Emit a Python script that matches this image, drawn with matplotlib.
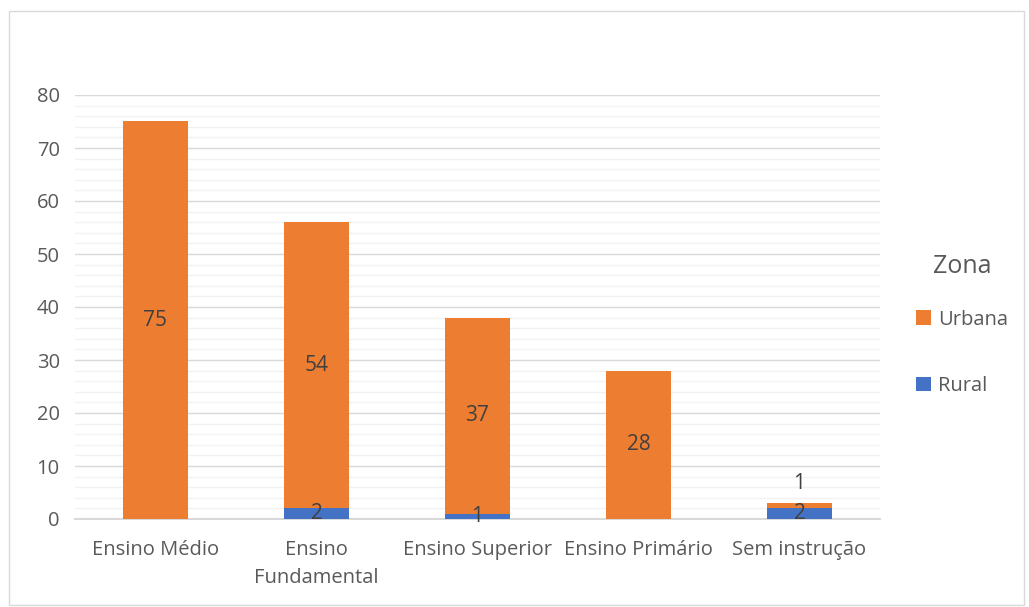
import matplotlib
matplotlib.use("Agg")
import matplotlib.pyplot as plt
from matplotlib.patches import Rectangle
from matplotlib.ticker import MultipleLocator

categories = ["Ensino Médio", "Ensino\nFundamental", "Ensino Superior", "Ensino Primário", "Sem instrução"]
rural = [0, 2, 1, 0, 2]
urbana = [75, 54, 37, 28, 1]

plt.rcParams['font.family'] = ['Open Sans', 'DejaVu Sans']
TXT = '#595959'
ORANGE = '#ED7D31'
BLUE = '#4472C4'
FS = 14.5

fig = plt.figure(figsize=(10.29, 6.07), dpi=100)
ax = fig.add_axes([75/1029, 1-519/607, 805/1029, 424/607])

x = list(range(len(categories)))
w = 0.405
ax.bar(x, rural, width=w, color=BLUE, label='Rural', zorder=3)
ax.bar(x, urbana, width=w, bottom=rural, color=ORANGE, label='Urbana', zorder=3)

for i in x:
    if rural[i] > 0:
        ax.text(i, rural[i] / 2, str(rural[i]), ha='center', va='center',
                fontsize=FS + 0.5, color='#404040', zorder=4)
    if urbana[i] > 0:
        mid = rural[i] + urbana[i] / 2
        if urbana[i] < 3 and rural[i] > 0:
            ax.annotate(str(urbana[i]), (i, rural[i] + urbana[i]), xytext=(0, 14),
                        textcoords='offset points', ha='center', va='center',
                        fontsize=FS + 0.5, color='#404040', zorder=4)
        else:
            ax.text(i, mid, str(urbana[i]), ha='center', va='center',
                    fontsize=FS + 0.5, color='#404040', zorder=4)

ax.set_xlim(-0.5, len(categories) - 0.5)
ax.set_ylim(0, 80)
ax.yaxis.set_major_locator(MultipleLocator(10))
ax.yaxis.set_minor_locator(MultipleLocator(2))
ax.grid(axis='y', which='minor', color='#F2F2F2', linewidth=1.0, zorder=0)
ax.grid(axis='y', which='major', color='#D9D9D9', linewidth=1.0, zorder=1)
ax.set_xticks(x)
ax.set_xticklabels(categories, fontsize=FS, color=TXT, linespacing=1.55)
ax.tick_params(axis='y', labelsize=FS, labelcolor=TXT, length=0, pad=11)
ax.tick_params(axis='y', which='minor', length=0)
ax.tick_params(axis='x', length=0, pad=15)
for s in ['top', 'right', 'left']:
    ax.spines[s].set_visible(False)
ax.spines['bottom'].set_color('#D9D9D9')
ax.spines['bottom'].set_linewidth(1.5)
ax.spines['bottom'].set_zorder(2)

handles, labels = ax.get_legend_handles_labels()
leg = fig.legend(handles[::-1], labels[::-1], title='Zona', loc='center left',
                 bbox_to_anchor=(898/1029, 1 - 325/607), frameon=False,
                 fontsize=FS, title_fontsize=18, labelspacing=2.3,
                 handlelength=0.75, handleheight=0.75, handletextpad=0.35)
for t in leg.get_texts():
    t.set_color(TXT)
leg.get_title().set_color(TXT)
leg._legend_box.sep = 22

fig.patches.append(Rectangle((9/1029, 2/607), 1015/1029, 594/607, transform=fig.transFigure,
                             fill=False, edgecolor='#D9D9D9', linewidth=1.0))

fig.savefig('out.png', dpi=100)
